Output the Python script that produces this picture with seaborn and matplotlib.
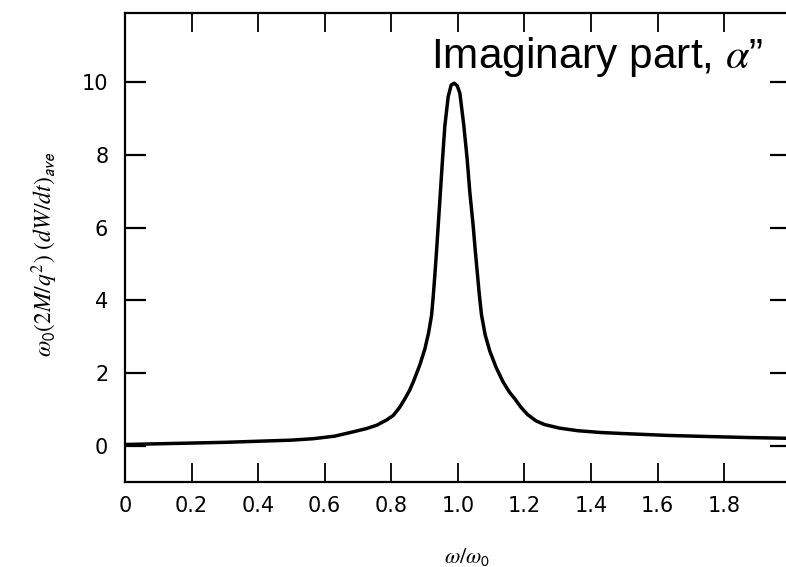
import numpy as np
import pandas as pd
import matplotlib
matplotlib.use("Agg")
import matplotlib.pyplot as plt
import seaborn as sns

# frequency ratio and averaged absorbed power
omega_ratio = [0.0, 0.1, 0.2, 0.3, 0.4, 0.5, 0.566, 0.63, 0.686, 0.726,
               0.756, 0.785, 0.806, 0.825, 0.841, 0.855, 0.866, 0.885,
               0.901, 0.912, 0.921, 0.926, 0.931, 0.936, 0.941, 0.946,
               0.954, 0.961, 0.971, 0.980, 0.989, 0.998, 1.006, 1.018,
               1.028, 1.036, 1.046, 1.052, 1.058, 1.064, 1.071, 1.082,
               1.096, 1.115, 1.136, 1.155, 1.171, 1.19, 1.21, 1.235,
               1.26, 1.306, 1.36, 1.43, 1.5, 1.63, 1.75, 1.88, 2.0]
power = [0.03, 0.05, 0.07, 0.09, 0.12, 0.15, 0.19, 0.26, 0.38, 0.47,
         0.56, 0.70, 0.83, 1.05, 1.29, 1.52, 1.75, 2.20,
         2.66, 3.10, 3.58, 4.10, 4.70, 5.35, 6.05, 6.75,
         7.88, 8.80, 9.60, 9.92, 9.97, 9.90, 9.70, 8.80,
         7.88, 6.97, 6.05, 5.40, 4.80, 4.20, 3.60, 3.05,
         2.60, 2.15, 1.75, 1.47, 1.29, 1.05, 0.85, 0.68,
         0.58, 0.48, 0.41, 0.36, 0.33, 0.28, 0.25, 0.22, 0.20]

x_ticks = [0.2, 0.4, 0.6, 0.8, 1.0, 1.2, 1.4, 1.6, 1.8]
x_ticklabels = ["0.2", "0.4", "0.6", "0.8", "1.0", "1.2", "1.4", "1.6", "1.8"]
y_ticks = [0, 2, 4, 6, 8, 10]

df = pd.DataFrame({"w": omega_ratio, "p": power})

sns.set_style("ticks")
plt.rcParams["font.family"] = ["DejaVu Sans"]
plt.rcParams["mathtext.fontset"] = "stix"
for k in ["text.color", "axes.labelcolor", "xtick.color", "ytick.color",
          "axes.edgecolor"]:
    plt.rcParams[k] = "black"

fig = plt.figure(figsize=(7.86, 5.67), dpi=100)
ax = fig.add_axes([0.159, 0.150, 0.847, 0.827])

sns.lineplot(data=df, x="w", y="p", ax=ax, color="black", linewidth=2.5)

ax.set_xlim(0, 2.0)
ax.set_ylim(-1.0, 11.9)
ax.set_xticks(x_ticks)
ax.set_xticklabels(x_ticklabels)
ax.set_yticks(y_ticks)

for s in ax.spines.values():
    s.set_linewidth(1.6)

ax.tick_params(axis="x", direction="in", length=13.5, width=1.3,
               top=True, labelsize=15, pad=10)
ax.tick_params(axis="y", direction="in", length=15, width=1.6,
               right=True, labelsize=15, pad=12)
# the 0 at the left corner of the x axis
ax.text(0, -0.03, "0", transform=ax.get_xaxis_transform(),
        ha="center", va="top", fontsize=15)

ax.set_xlabel(r"$\omega/\omega_\mathsf{0}$", fontsize=16)
ax.xaxis.set_label_coords(0.514, -0.137)
ax.set_ylabel(r"$\omega_\mathsf{0}(2M/q^2)\ (dW/dt)_{\mathsf{ave}}$",
              fontsize=17)
ax.yaxis.set_label_coords(-0.097, 0.486)

fig.text(0.971, 0.880, "Imaginary part, $\\alpha$\u201d", ha="right",
         va="baseline", fontsize=30.5, family="Liberation Sans")

fig.savefig("out.png", dpi=100)
